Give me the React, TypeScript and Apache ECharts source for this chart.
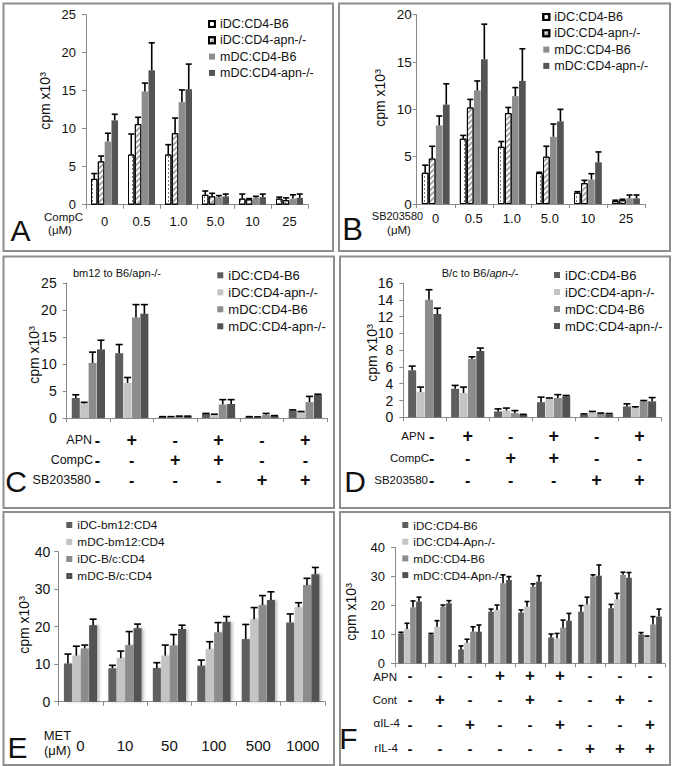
import React, { useEffect, useRef } from "react";
import * as echarts from "echarts";

const FONT = "'Liberation Sans', Arial, Helvetica, sans-serif";

// ---------------- data ----------------
const namesAB = ["iDC:CD4-B6", "iDC:CD4-apn-/-", "mDC:CD4-B6", "mDC:CD4-apn-/-"];
const namesE = ["iDC-bm12:CD4", "mDC-bm12:CD4", "iDC-B/c:CD4", "mDC-B/c:CD4"];
const namesF = ["iDC:CD4-B6", "iDC:CD4-Apn-/-", "mDC:CD4-B6", "mDC:CD4-Apn-/-"];

const compCDoses = ["0", "0.5", "1.0", "5.0", "10", "25"];
const sbDoses = ["0", "0.5", "1.0", "5.0", "10", "25"];
const metDoses = ["0", "10", "50", "100", "500", "1000"];

// Panel A (CompC)
const aIdcB6 = [3.4, 6.6, 6.6, 1.3, 0.8, 0.8];
const aIdcApn = [5.7, 10.6, 9.4, 1.1, 0.7, 0.6];
const aMdcB6 = [8.3, 14.9, 13.5, 1.0, 0.9, 0.8];
const aMdcApn = [11.1, 17.7, 15.2, 1.1, 1.0, 0.9];
const aIdcB6Err = [4.1, 9.3, 7.9, 1.8, 1.4, 1.0];
const aIdcApnErr = [6.4, 11.5, 11.4, 1.5, 0.8, 0.9];
const aMdcB6Err = [9.4, 16.0, 15.1, 1.2, 1.1, 1.3];
const aMdcApnErr = [11.9, 21.3, 18.5, 1.4, 1.4, 1.4];

// Panel B (SB203580)
const bIdcB6 = [3.3, 6.9, 6.05, 3.27, 1.2, 0.3];
const bIdcApn = [4.8, 10.2, 9.6, 5.0, 2.2, 0.4];
const bMdcB6 = [8.3, 12.0, 11.4, 7.1, 2.6, 0.6];
const bMdcApn = [10.5, 15.3, 13.0, 8.73, 4.4, 0.6];
const bIdcB6Err = [4.1, 7.25, 6.6, 3.35, 1.3, 0.4];
const bIdcApnErr = [6.1, 11.05, 10.2, 6.1, 2.5, 0.5];
const bMdcB6Err = [9.3, 13.0, 12.3, 8.45, 3.2, 0.95];
const bMdcApnErr = [12.7, 19.0, 16.4, 10.0, 5.5, 0.95];

// Panel C (bm12 to B6/apn-/-)
const cIdcB6 = [3.7, 12.0, 0.2, 0.75, 0.2, 1.4];
const cIdcApn = [2.7, 6.5, 0.2, 0.6, 0.15, 1.1];
const cMdcB6 = [10.2, 18.6, 0.3, 2.5, 0.6, 2.95];
const cMdcApn = [12.7, 19.3, 0.3, 2.6, 0.4, 4.3];
const cIdcB6Err = [4.3, 13.6, 0.25, 0.85, 0.25, 1.5];
const cIdcApnErr = [2.9, 7.5, 0.25, 0.7, 0.2, 1.2];
const cMdcB6Err = [12.2, 21.0, 0.35, 3.4, 0.85, 4.0];
const cMdcApnErr = [14.4, 21.0, 0.35, 3.4, 0.45, 4.4];

// Panel D (B/c to B6/apn-/-)
const dIdcB6 = [5.6, 3.4, 0.7, 1.8, 0.3, 1.3];
const dIdcApn = [3.0, 2.9, 0.8, 2.25, 0.6, 1.1];
const dMdcB6 = [14.0, 6.95, 0.5, 2.3, 0.45, 1.9];
const dMdcApn = [12.3, 7.9, 0.3, 2.5, 0.35, 1.9];
const dIdcB6Err = [6.1, 3.8, 1.0, 2.4, 0.4, 1.6];
const dIdcApnErr = [3.6, 3.6, 1.1, 2.3, 0.7, 1.25];
const dMdcB6Err = [15.2, 7.2, 0.8, 2.7, 0.5, 2.0];
const dMdcApnErr = [13.0, 8.25, 0.35, 2.6, 0.45, 2.35];

// Panel E (MET)
const eIdcBm12 = [10.2, 8.9, 9.0, 9.6, 16.7, 21.1];
const eMdcBm12 = [12.3, 11.6, 12.3, 14.0, 22.0, 25.2];
const eIdcBc = [14.2, 15.1, 15.0, 18.5, 25.8, 31.1];
const eMdcBc = [20.4, 19.6, 19.4, 21.3, 27.1, 34.0];
const eIdcBm12Err = [12.7, 9.7, 10.4, 11.1, 20.6, 23.4];
const eMdcBm12Err = [14.8, 13.5, 15.1, 16.0, 25.1, 26.4];
const eIdcBcErr = [15.1, 18.7, 17.9, 21.1, 28.3, 32.9];
const eMdcBcErr = [22.0, 20.7, 20.4, 22.7, 29.3, 35.8];

// Panel F
const fIdcB6 = [10.3, 10.0, 4.8, 17.8, 17.5, 8.9, 17.8, 19.0, 10.0];
const fIdcApn = [11.8, 12.6, 7.1, 18.4, 19.5, 8.6, 20.3, 22.1, 9.2];
const fMdcB6 = [19.3, 19.5, 10.9, 27.6, 26.4, 12.3, 29.9, 30.5, 13.4];
const fMdcApn = [21.3, 20.7, 10.9, 28.7, 28.2, 14.7, 30.2, 29.5, 16.1];
const fIdcB6Err = [10.7, 10.3, 6.0, 18.7, 18.4, 10.1, 19.9, 20.3, 10.6];
const fIdcApnErr = [13.8, 14.7, 8.3, 20.1, 21.3, 10.3, 22.8, 24.1, 9.4];
const fMdcB6Err = [21.5, 20.1, 12.6, 30.5, 27.4, 14.9, 30.5, 31.4, 16.1];
const fMdcApnErr = [22.8, 21.6, 13.2, 29.9, 30.2, 17.2, 33.9, 31.3, 18.7];

// treatment rows
const rowNamesCD = ["APN", "CompC", "SB203580"];
const apnCD = ["-", "+", "-", "+", "-", "+"];
const compCCD = ["-", "-", "+", "+", "-", "-"];
const sbCD = ["-", "-", "-", "-", "+", "+"];
const rowNamesF = ["APN", "Cont", "αIL-4", "rIL-4"];
const apnF = ["-", "-", "-", "+", "+", "+", "-", "-", "-"];
const contF = ["-", "+", "-", "-", "+", "-", "-", "+", "-"];
const aIL4F = ["-", "-", "+", "-", "-", "+", "-", "-", "+"];
const rIL4F = ["-", "-", "-", "-", "-", "-", "+", "+", "+"];

const yLabel = "cpm x10³";

// ---------------- styles ----------------
const dotStyle = {
  color: "#ffffff",
  borderColor: "#000",
  borderWidth: 1,
  decal: {
    symbol: "rect",
    symbolSize: 1,
    dashArrayX: [1, 2.5],
    dashArrayY: [1.5, 2],
    color: "#777",
  },
};
const hatchStyle = {
  color: "#ffffff",
  borderColor: "#000",
  borderWidth: 1,
  decal: {
    symbol: "rect",
    symbolSize: 1,
    dashArrayX: [1, 0],
    dashArrayY: [2, 2],
    rotation: -Math.PI / 4,
    color: "#a6a6a6",
  },
};
const stylesAB = [dotStyle, hatchStyle, { color: "#8c8c8c" }, { color: "#545454" }];
const stylesGray = [{ color: "#5e5e5e" }, { color: "#c4c4c4" }, { color: "#8c8c8c" }, { color: "#525252" }];

type Txt = {
  text: string;
  x: number;
  y: number;
  size?: number;
  align?: string;
  rot?: number;
  rich?: any;
};

type Cfg = {
  ox: number; oy: number; w: number; h: number;
  box: number[];
  plot: number[];
  yMax: number; yStep: number; yFont: number; yMargin: number;
  cats?: string[]; xFont?: number; xMargin?: number;
  signRows?: string[][]; signLine?: number; signMargin?: number; firstPad?: number;
  plusSize?: number; minusSize?: number;
  names: string[]; vals: number[][]; errs: number[][]; styles: any[];
  barW: number; gap: number; capW: number;
  legend: { textX: number; rowY: number; spacing: number; font: number };
  texts: Txt[];
  shadow?: boolean;
};

function buildOption(c: Cfg) {
  const L = c.plot[0] - c.ox;
  const T = c.plot[1] - c.oy;
  const W = c.plot[2] - c.plot[0];
  const H = c.plot[3] - c.plot[1];
  const n = c.vals[0].length;
  const catData = c.cats ? c.cats : Array.from({ length: n }, (_, i) => "c" + i);
  const step = c.barW * (1 + c.gap);

  let axisLabel: any;
  if (c.signRows) {
    const rows = c.signRows;
    const lh = c.signLine || 20;
    const pad = c.firstPad || 0;
    const ps = c.plusSize || 17;
    const ms = c.minusSize || 16;
    const base = { fontFamily: FONT, fontWeight: "bold", color: "#111", lineHeight: lh };
    axisLabel = {
      interval: 0,
      margin: c.signMargin || 0,
      formatter: (_v: string, idx: number) =>
        rows
          .map((r) => {
            const s = r[idx];
            const key = (s === "+" ? "p" : "m") + (idx === 0 ? "0" : "");
            return "{" + key + "|" + s + "}";
          })
          .join("\n"),
      rich: {
        p: { ...base, fontSize: ps },
        m: { ...base, fontSize: ms },
        p0: { ...base, fontSize: ps, padding: [0, 0, 0, pad] },
        m0: { ...base, fontSize: ms, padding: [0, 0, 0, pad] },
      },
    };
  } else {
    axisLabel = {
      interval: 0,
      margin: c.xMargin,
      fontSize: c.xFont,
      fontFamily: FONT,
      color: "#111",
    };
  }

  const bars = c.names.map((nm, si) => ({
    type: "bar",
    name: nm,
    data: c.vals[si],
    barWidth: c.barW,
    barGap: c.gap * 100 + "%",
    z: 2,
    itemStyle: c.shadow
      ? { ...c.styles[si], shadowBlur: 3, shadowColor: "rgba(0,0,0,0.28)", shadowOffsetX: 2, shadowOffsetY: 0 }
      : c.styles[si],
    emphasis: { disabled: true },
  }));

  const errData: number[][] = [];
  c.vals.forEach((arr, si) => arr.forEach((v, ci) => errData.push([ci, v, c.errs[si][ci], si])));
  const half = c.capW / 2;
  const errSeries = {
    type: "custom",
    name: "err",
    data: errData,
    encode: { x: 0, y: 1 },
    z: 3,
    silent: true,
    renderItem: (_p: any, api: any) => {
      const ci = api.value(0);
      const si = api.value(3);
      const b = api.coord([ci, api.value(1)]);
      const t = api.coord([ci, api.value(2)]);
      const x = b[0] + (si - 1.5) * step;
      const st = { stroke: "#000", lineWidth: 1.6 };
      return {
        type: "group",
        children: [
          { type: "line", shape: { x1: x, y1: b[1], x2: x, y2: t[1] }, style: st },
          { type: "line", shape: { x1: x - half, y1: t[1], x2: x + half, y2: t[1] }, style: st },
        ],
      };
    },
  };

  const lineH = 14;
  const graphic: any[] = [
    {
      type: "rect",
      silent: true,
      shape: { x: c.box[0] - c.ox, y: c.box[1] - c.oy, width: c.box[2] - c.box[0], height: c.box[3] - c.box[1] },
      style: { fill: "none", stroke: "#8e8e8e", lineWidth: 2 },
    },
    ...c.texts.map((t) => ({
      type: "text",
      silent: true,
      x: t.x - c.ox,
      y: t.y - c.oy,
      rotation: t.rot || 0,
      style: {
        text: t.text,
        fontSize: t.size || 12,
        fontFamily: FONT,
        fill: "#111",
        align: t.align || "center",
        verticalAlign: "middle",
        rich: t.rich,
      },
    })),
  ];

  return {
    animation: false,
    backgroundColor: "#fff",
    grid: { left: L, top: T, width: W, height: H, containLabel: false },
    legend: {
      orient: "vertical",
      left: c.legend.textX - 5 - 6 - c.ox,
      top: c.legend.rowY - lineH / 2 - c.oy,
      padding: 0,
      itemGap: c.legend.spacing - lineH,
      itemWidth: 6,
      itemHeight: 6,
      icon: "rect",
      selectedMode: false,
      z: 1,
      data: c.names,
      textStyle: { fontSize: c.legend.font, fontFamily: FONT, color: "#111", lineHeight: lineH },
    },
    xAxis: {
      type: "category",
      data: catData,
      boundaryGap: true,
      axisLine: { lineStyle: { color: "#8a8a8a", width: 1 } },
      axisTick: { show: true, length: 4, lineStyle: { color: "#8a8a8a" } },
      axisLabel,
      splitLine: { show: false },
    },
    yAxis: {
      type: "value",
      min: 0,
      max: c.yMax,
      interval: c.yStep,
      axisLine: { show: true, lineStyle: { color: "#8a8a8a", width: 1 } },
      axisTick: { show: true, length: 4, lineStyle: { color: "#8a8a8a" } },
      axisLabel: { fontSize: c.yFont, fontFamily: FONT, color: "#111", margin: c.yMargin },
      splitLine: { show: false },
    },
    series: [...bars, errSeries],
    graphic,
  };
}

// ---------------- panel configs (page coordinates) ----------------
const panels: Cfg[] = [
  {
    ox: 0, oy: 0, w: 336, h: 254,
    box: [3.5, 3.5, 333, 251],
    plot: [86, 14.7, 308, 204.7],
    yMax: 25, yStep: 5, yFont: 13, yMargin: 10,
    cats: compCDoses, xFont: 13, xMargin: 10,
    names: namesAB,
    vals: [aIdcB6, aIdcApn, aMdcB6, aMdcApn],
    errs: [aIdcB6Err, aIdcApnErr, aMdcB6Err, aMdcApnErr],
    styles: stylesAB,
    barW: 6.5, gap: 0.05, capW: 6,
    legend: { textX: 219, rowY: 24, spacing: 16.3, font: 12.5 },
    texts: [
      { text: "CompC", x: 63.5, y: 217, size: 11.5 },
      { text: "(μM)", x: 60, y: 230, size: 11.5 },
      { text: "A", x: 20.5, y: 230, size: 30 },
      { text: yLabel, x: 45, y: 101, size: 14, rot: Math.PI / 2 },
    ],
  },
  {
    ox: 336, oy: 0, w: 339, h: 254,
    box: [339, 3.5, 670, 251],
    plot: [416.7, 14.7, 645, 204],
    yMax: 20, yStep: 5, yFont: 13.5, yMargin: 5,
    cats: sbDoses, xFont: 13, xMargin: 8,
    names: namesAB,
    vals: [bIdcB6, bIdcApn, bMdcB6, bMdcApn],
    errs: [bIdcB6Err, bIdcApnErr, bMdcB6Err, bMdcApnErr],
    styles: stylesAB,
    barW: 6.7, gap: 0.05, capW: 6,
    legend: { textX: 553.3, rowY: 17, spacing: 16.3, font: 12.5 },
    texts: [
      { text: "SB203580", x: 397.5, y: 216, size: 11 },
      { text: "(μM)", x: 399, y: 230, size: 11.5 },
      { text: "B", x: 352.5, y: 229, size: 31 },
      { text: yLabel, x: 380, y: 98, size: 14, rot: Math.PI / 2 },
    ],
  },
  {
    ox: 0, oy: 254, w: 337, h: 256,
    box: [3.5, 256.5, 334, 508],
    plot: [66.7, 283, 327, 418],
    yMax: 25, yStep: 5, yFont: 14, yMargin: 10,
    signRows: [apnCD, compCCD, sbCD], signLine: 20, signMargin: 12, firstPad: 18,
    plusSize: 18, minusSize: 16,
    names: namesAB,
    vals: [cIdcB6, cIdcApn, cMdcB6, cMdcApn],
    errs: [cIdcB6Err, cIdcApnErr, cMdcB6Err, cMdcApnErr],
    styles: stylesGray,
    barW: 8, gap: 0.05, capW: 7,
    legend: { textX: 228.3, rowY: 275.3, spacing: 17, font: 13 },
    texts: [
      { text: "bm12 to B6/apn-/-", x: 117, y: 273, size: 11 },
      { text: rowNamesCD[0], x: 92, y: 440, size: 12.5, align: "right" },
      { text: rowNamesCD[1], x: 93, y: 460, size: 12.5, align: "right" },
      { text: rowNamesCD[2], x: 91, y: 480, size: 12.5, align: "right" },
      { text: "C", x: 16, y: 481, size: 30 },
      { text: yLabel, x: 34, y: 355, size: 14, rot: Math.PI / 2 },
    ],
  },
  {
    ox: 337, oy: 254, w: 338, h: 256,
    box: [340, 256.5, 670, 508],
    plot: [403.3, 283, 661, 417.3],
    yMax: 16, yStep: 2, yFont: 14, yMargin: 10,
    signRows: [apnCD, compCCD, sbCD], signLine: 22, signMargin: 8, firstPad: 14,
    plusSize: 18, minusSize: 16,
    names: namesAB,
    vals: [dIdcB6, dIdcApn, dMdcB6, dMdcApn],
    errs: [dIdcB6Err, dIdcApnErr, dMdcB6Err, dMdcApnErr],
    styles: stylesGray,
    barW: 8, gap: 0.05, capW: 7,
    legend: { textX: 565, rowY: 275, spacing: 17, font: 13 },
    texts: [
      {
        text: "{n|B/c to B6/}{i|apn-/-}", x: 480, y: 273, size: 11,
        rich: {
          n: { fontSize: 11, fontFamily: FONT, fill: "#111" },
          i: { fontSize: 11, fontFamily: FONT, fill: "#111", fontStyle: "italic" },
        },
      },
      { text: rowNamesCD[0], x: 425, y: 436, size: 11.5, align: "right" },
      { text: rowNamesCD[1], x: 429, y: 458, size: 11.5, align: "right" },
      { text: rowNamesCD[2], x: 428, y: 480, size: 11.5, align: "right" },
      { text: "D", x: 355, y: 481, size: 30 },
      { text: yLabel, x: 372, y: 353, size: 14, rot: Math.PI / 2 },
    ],
  },
  {
    ox: 0, oy: 510, w: 337, h: 256,
    box: [3.5, 512, 334, 765],
    plot: [58.3, 551.7, 325, 701.7],
    yMax: 40, yStep: 10, yFont: 14, yMargin: 8,
    cats: metDoses, xFont: 15, xMargin: 36,
    names: namesE,
    vals: [eIdcBm12, eMdcBm12, eIdcBc, eMdcBc],
    errs: [eIdcBm12Err, eMdcBm12Err, eIdcBcErr, eMdcBcErr],
    styles: stylesGray,
    barW: 8, gap: 0.05, capW: 7,
    shadow: true,
    legend: { textX: 77.3, rowY: 525, spacing: 17, font: 11.8 },
    texts: [
      { text: "MET", x: 57.5, y: 735, size: 13 },
      { text: "(μM)", x: 57.5, y: 750, size: 13 },
      { text: "E", x: 17.5, y: 747, size: 30 },
      { text: yLabel, x: 24, y: 625, size: 14, rot: Math.PI / 2 },
    ],
  },
  {
    ox: 337, oy: 510, w: 338, h: 256,
    box: [340, 512, 670, 765],
    plot: [395, 547.3, 665, 663.3],
    yMax: 40, yStep: 10, yFont: 13, yMargin: 10,
    signRows: [apnF, contF, aIL4F, rIL4F], signLine: 24.3, signMargin: 0, firstPad: 0,
    plusSize: 17, minusSize: 15,
    names: namesF,
    vals: [fIdcB6, fIdcApn, fMdcB6, fMdcApn],
    errs: [fIdcB6Err, fIdcApnErr, fMdcB6Err, fMdcApnErr],
    styles: stylesGray,
    barW: 5.7, gap: 0.05, capW: 5,
    legend: { textX: 413.3, rowY: 525, spacing: 16.7, font: 11.7 },
    texts: [
      { text: rowNamesF[0], x: 397, y: 677, size: 11.5, align: "right" },
      { text: rowNamesF[1], x: 397, y: 700, size: 11.5, align: "right" },
      { text: rowNamesF[2], x: 400, y: 723, size: 11.5, align: "right" },
      { text: rowNamesF[3], x: 398, y: 748, size: 11.5, align: "right" },
      { text: "F", x: 348.5, y: 738, size: 30 },
      { text: yLabel, x: 351, y: 612, size: 14, rot: Math.PI / 2 },
    ],
  },
];

function Panel({ cfg }: { cfg: Cfg }) {
  const ref = useRef<HTMLDivElement>(null);
  useEffect(() => {
    if (!ref.current) return;
    const chart = echarts.init(ref.current, null, { renderer: "svg", width: cfg.w, height: cfg.h });
    chart.setOption(buildOption(cfg) as any);
    return () => chart.dispose();
  }, [cfg]);
  return (
    <div
      ref={ref}
      style={{ position: "absolute", left: cfg.ox, top: cfg.oy, width: cfg.w, height: cfg.h }}
    />
  );
}

export default function App() {
  return (
    <div style={{ position: "absolute", left: 0, top: 0, width: 675, height: 766, background: "#fff", overflow: "hidden" }}>
      {panels.map((p, i) => (
        <Panel key={i} cfg={p} />
      ))}
    </div>
  );
}
